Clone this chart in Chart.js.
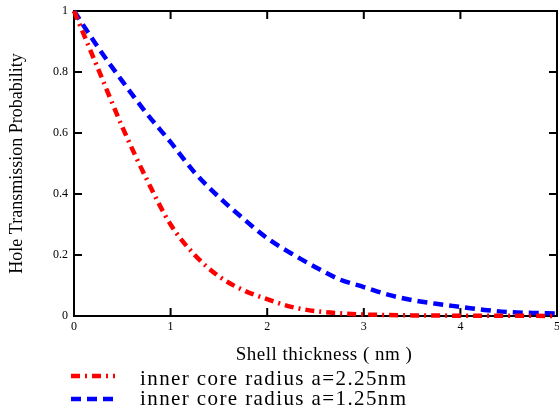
<!DOCTYPE html>
<html>
<head>
<meta charset="utf-8">
<script src="https://cdn.jsdelivr.net/npm/chart.js@4/dist/chart.umd.min.js"></script>
<style>
  html, body { margin: 0; padding: 0; background: #fff; }
  #wrap { width: 559px; height: 409px; position: relative; }
</style>
</head>
<body>
<div id="wrap"><canvas id="transmission_chart"></canvas></div>
<script>
// shell thickness (nm)
const thickness = [0, 0.25, 0.5, 0.75, 1, 1.25, 1.5, 1.75, 2, 2.25, 2.5, 2.75, 3, 3.25, 3.5, 3.75, 4, 4.25, 4.5, 4.75, 5];

// a = 2.25nm
const prob_a225 = [1, 0.81, 0.62, 0.45, 0.3, 0.2, 0.13, 0.085, 0.055, 0.03, 0.016, 0.009, 0.005, 0.003, 0.002, 0.0015, 0.001, 0.001, 0.0005, 0.0005, 0];
// a = 1.25nm
const prob_a125 = [1, 0.88, 0.77, 0.665, 0.57, 0.47, 0.39, 0.32, 0.255, 0.205, 0.16, 0.12, 0.095, 0.07, 0.052, 0.04, 0.03, 0.02, 0.013, 0.01, 0.008];

const x_ticks = [0, 1, 2, 3, 4, 5];
const y_ticks = [0, 0.2, 0.4, 0.6, 0.8, 1];

const series_labels = ['inner core radius a=2.25nm', 'inner core radius a=1.25nm'];
const x_title = 'Shell thickness ( nm )';
const y_title = 'Hole Transmission Probability';

const serif = '"Liberation Serif", "Times New Roman", serif';

const red_dash = [9, 5, 2, 5];
const blue_dash = [10, 6];

// frame + inward ticks on all four sides, x title and legend
const frame_plugin = {
  id: 'frame',
  beforeDatasetsDraw(chart) {
    const { ctx, chartArea: a, scales } = chart;
    ctx.save();
    ctx.strokeStyle = '#000';
    ctx.lineWidth = 2;
    ctx.strokeRect(a.left, a.top, a.right - a.left, a.bottom - a.top);
    const tl = 8;
    ctx.beginPath();
    x_ticks.slice(1, -1).forEach(v => {
      const px = scales.x.getPixelForValue(v);
      ctx.moveTo(px, a.bottom); ctx.lineTo(px, a.bottom - tl);
      ctx.moveTo(px, a.top); ctx.lineTo(px, a.top + tl);
    });
    y_ticks.slice(1, -1).forEach(v => {
      const py = scales.y.getPixelForValue(v);
      ctx.moveTo(a.left, py); ctx.lineTo(a.left + tl, py);
      ctx.moveTo(a.right, py); ctx.lineTo(a.right - tl, py);
    });
    ctx.stroke();
    ctx.restore();
  },
  afterDraw(chart) {
    const { ctx } = chart;
    ctx.save();
    ctx.fillStyle = '#000';
    ctx.textBaseline = 'alphabetic';
    ctx.font = '19px ' + serif;
    ctx.letterSpacing = '0.5px';
    ctx.textAlign = 'center';
    ctx.fillText(x_title, 324, 360);

    // legend
    const rows = [
      { y: 376, color: 'rgb(255,0,0)', dash: red_dash, base: 385 },
      { y: 399, color: 'rgb(0,0,255)', dash: blue_dash, base: 405 }
    ];
    rows.forEach((r, i) => {
      ctx.strokeStyle = r.color;
      ctx.lineWidth = 4.5;
      ctx.setLineDash(r.dash);
      ctx.beginPath();
      ctx.moveTo(71, r.y); ctx.lineTo(115, r.y);
      ctx.stroke();
      ctx.setLineDash([]);
      ctx.font = '21px ' + serif;
      ctx.letterSpacing = '1.4px';
      ctx.textAlign = 'left';
      ctx.fillText(chart.data.datasets[i].label, 140, r.base);
    });
    ctx.restore();
  }
};

const ctx = document.getElementById('transmission_chart').getContext('2d');

new Chart(ctx, {
  type: 'line',
  data: {
    labels: thickness,
    datasets: [
      {
        label: series_labels[0],
        data: thickness.map((t, i) => ({ x: t, y: prob_a225[i] })),
        borderColor: 'rgb(255,0,0)',
        borderWidth: 4.5,
        borderDash: red_dash,
        pointRadius: 0,
        cubicInterpolationMode: 'monotone',
        clip: 6
      },
      {
        label: series_labels[1],
        data: thickness.map((t, i) => ({ x: t, y: prob_a125[i] })),
        borderColor: 'rgb(0,0,255)',
        borderWidth: 4.5,
        borderDash: blue_dash,
        pointRadius: 0,
        cubicInterpolationMode: 'monotone',
        clip: 6
      }
    ]
  },
  options: {
    responsive: true,
    maintainAspectRatio: false,
    animation: false,
    layout: { padding: { top: 11, right: 2, left: 0, bottom: 0 } },
    plugins: {
      legend: { display: false },
      tooltip: { enabled: false }
    },
    scales: {
      x: {
        type: 'linear',
        min: 0,
        max: 5,
        grid: { display: false, drawTicks: false },
        border: { display: false },
        afterBuildTicks: s => { s.ticks = x_ticks.map(v => ({ value: v })); },
        afterFit: s => { s.height = 93; s.paddingLeft = 0; s.paddingRight = 0; },
        ticks: {
          padding: 4,
          color: '#000',
          font: { family: serif, size: 12 },
          maxRotation: 0,
          callback: v => String(v)
        }
      },
      y: {
        min: 0,
        max: 1,
        grid: { display: false, drawTicks: false },
        border: { display: false },
        afterBuildTicks: s => { s.ticks = y_ticks.map(v => ({ value: v })); },
        afterFit: s => { s.width = 74; s.paddingTop = 0; s.paddingBottom = 0; },
        title: {
          display: true,
          text: y_title,
          color: '#000',
          font: { family: serif, size: 18 },
          padding: { top: 6, bottom: 0 }
        },
        ticks: {
          padding: 6,
          color: '#000',
          font: { family: serif, size: 12 },
          callback: v => String(v)
        }
      }
    }
  },
  plugins: [frame_plugin]
});
</script>
</body>
</html>
